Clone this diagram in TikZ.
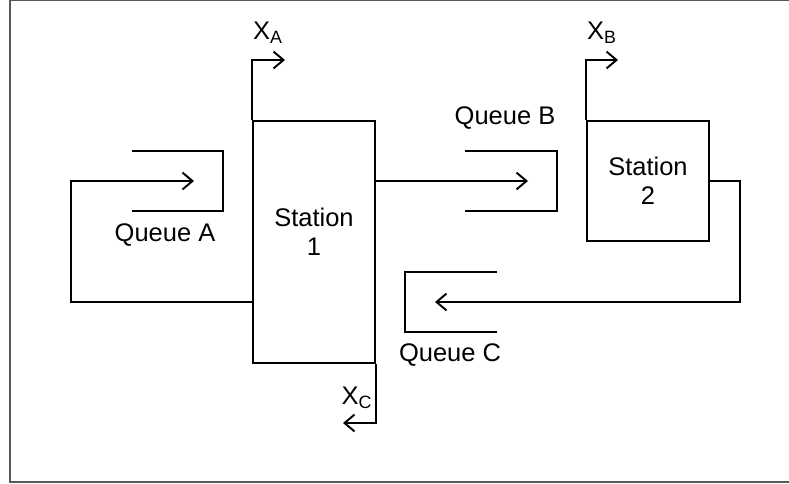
\documentclass[tikz,border=0pt]{standalone}
\usepackage{fontspec}
\setmainfont{Liberation Sans}
\usetikzlibrary{arrows.meta,positioning}

\begin{document}
\begin{tikzpicture}[
    x=0.02cm, y=-0.02cm,
    station/.style={draw, rectangle, line width=1.1pt, inner sep=0pt, minimum width=2.44cm, align=center, font=\fontsize{14.5}{16.5}\selectfont},
    lbl/.style={inner sep=0pt, align=center, font=\fontsize{14.5}{16.5}\selectfont},
    wall/.style={line width=1.1pt},
    flow/.style={line width=1.1pt, -{Straight Barb[length=5.7pt, width=9.6pt]}}
]
\useasboundingbox (0,0) rectangle (789,484);
\draw[gray!70!black, line width=0.7pt] (10,0.5) rectangle (800,482);

% Stations
\node[station, minimum height=4.84cm] (s1) at (314,242) {};
\node[lbl] (s1txt) at (314,232) {Station\\1};
\node[station, minimum height=2.4cm] (s2) at (648,181) {Station\\2};

% Queues
\draw[wall] (132,151) -| (223,211) -- (132,211);
\draw[wall] (465,151) -| (557,211) -- (465,211);
\draw[wall] (497,272) -| (405,332) -- (497,332);
\node[lbl] (qalbl) at (165,235) {Queue A};
\node[lbl] (qblbl) at (505,118) {Queue B};
\node[lbl] (qclbl) at (450,355) {Queue C};

\coordinate (qa) at (194,181);
\coordinate (qb) at (528,181);
\coordinate (qc) at (435,302);

% Flows
\draw[flow] (s1.west |- qc) -| (71,181) -- (qa);
\draw[flow] (s1.east |- s2) -- (qb);
\draw[flow] (s2.east) -- ++(30,0) |- (qc);

% Exits
\coordinate (xa) at (285,60);
\coordinate (xb) at (618,60);
\coordinate (xc) at (343,423);
\draw[flow] (s1.north west) |- (xa);
\draw[flow] (s2.north west) |- (xb);
\draw[flow] (s1.south east) |- (xc);
\node[lbl] (xalbl) at (268,33) {X\textsubscript{A}};
\node[lbl] (xblbl) at (602,33) {X\textsubscript{B}};
\node[lbl] (xclbl) at (357,398) {X\textsubscript{C}};

\end{tikzpicture}
\end{document}
